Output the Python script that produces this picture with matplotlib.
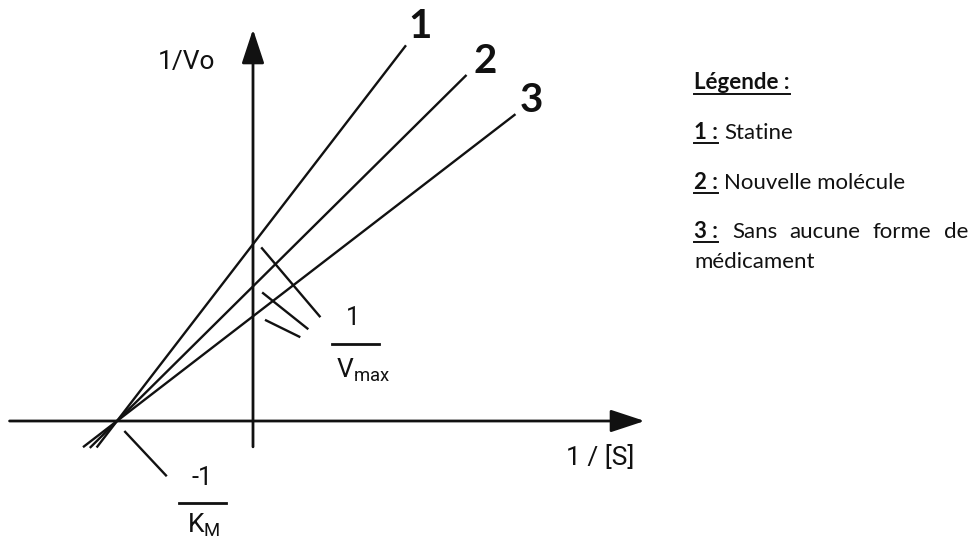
import matplotlib
matplotlib.use("Agg")
import matplotlib.pyplot as plt
from matplotlib.lines import Line2D

# Lineweaver-Burk lines: 1/v = (Km/Vmax) * 1/[S] + 1/Vmax
curve_names = ["1", "2", "3"]
inv_vmax = [1.30, 0.99, 0.77]   # y-intercepts (1/Vmax)
inv_km = 1.0                     # x-intercept is -1/Km, shared by all lines
x_start = [-1.15, -1.20, -1.25]
x_end = [1.125, 1.57, 1.93]

legend_title = "Légende :"
legend_items = [("1 :", "Statine"),
                ("2 :", "Nouvelle molécule"),
                ("3 :", "Sans aucune forme de", "médicament")]

W, H = 975, 539
fig = plt.figure(figsize=(W / 100, H / 100), dpi=100)
ax = fig.add_axes([0, 0, 1, 1])
ax.axis("off")

S = 136.0                      # pixels per unit
ox, oy = 253, 421              # origin in pixels
ax.set_xlim(-ox / S, (W - ox) / S)
ax.set_ylim(-(H - oy) / S, oy / S)

ink = "#111111"
diag_font = "Roboto"

# axes with arrow heads
arrow = dict(arrowstyle="-|>,head_length=1.0,head_width=0.33", mutation_scale=21,
             lw=2.0, color=ink, shrinkA=0, shrinkB=0)
ax.annotate("", xy=(2.88, 0), xytext=(-1.79, 0), arrowprops=arrow)
ax.annotate("", xy=(0, 2.88), xytext=(0, -0.19), arrowprops=arrow)

ax.text(-0.49, 2.64, "1/Vo", fontsize=19, family=diag_font, color=ink,
        ha="center", va="center")
ax.text(2.55, -0.265, "1 / [S]", fontsize=19, family=diag_font, color=ink,
        ha="center", va="center")

# the three lines
label_off = [(0.10, 0.14), (0.14, 0.10), (0.12, 0.10)]
for name, b, xa, xb, off in zip(curve_names, inv_vmax, x_start, x_end, label_off):
    xs = [xa, xb]
    ys = [b * (1 + x / inv_km) for x in xs]
    ax.plot(xs, ys, color=ink, lw=1.7, solid_capstyle="butt")
    ax.text(xb + off[0], ys[1] + off[1], name, fontsize=29, weight="bold",
            family="Lato", color=ink, ha="center", va="center")

# leader lines to the 1/Vmax label
leader_ends = [(0.49, 0.77), (0.40, 0.68), (0.34, 0.62)]
leader_dx = [0.066, 0.074, 0.096]
leader_dy = [-0.03, -0.05, -0.03]
for b, (ex, ey), dx, dy in zip(inv_vmax, leader_ends, leader_dx, leader_dy):
    ax.plot([dx, ex], [b + dy, ey], color=ink, lw=1.7)

ax.text(0.735, 0.757, "1", fontsize=18, family=diag_font, color=ink,
        ha="center", va="center")
ax.plot([0.58, 0.93], [0.566, 0.566], color=ink, lw=2.0)
ax.text(0.81, 0.375, r"V$_{\mathregular{max}}$", fontsize=19, family=diag_font,
        color=ink, ha="center", va="center")

# leader line and label for -1/Km
kx = -1 / inv_km
ax.plot([kx + 0.06, kx + 0.36], [-0.08, -0.40], color=ink, lw=1.7)
ax.text(-0.375, -0.42, "-1", fontsize=18, family=diag_font, color=ink,
        ha="center", va="center")
ax.plot([-0.544, -0.199], [-0.603, -0.603], color=ink, lw=2.0)
ax.text(-0.36, -0.77, r"K$_{\mathregular{M}}$", fontsize=19, family=diag_font,
        color=ink, ha="center", va="center")

# legend block on the right, in pixels
renderer = fig.canvas.get_renderer()
lx = 694
leg_size = 16


def fy(py):
    return 1 - py / H


def underline(t, py):
    bb = t.get_window_extent(renderer)
    fig.add_artist(Line2D([bb.x0 / W, bb.x1 / W], [fy(py), fy(py)],
                          transform=fig.transFigure, color=ink, lw=1.4))
    return bb


t = fig.text(lx / W, fy(89), legend_title, fontsize=leg_size, weight="bold",
             family="Lato", color=ink, va="baseline")
underline(t, 94)

rows_y = [139, 189, 238]
for (num, text, *more), py in zip(legend_items, rows_y):
    t = fig.text(lx / W, fy(py), num, fontsize=leg_size, weight="bold",
                 family="Lato", color=ink, va="baseline")
    bb = underline(t, py + 4)
    if not more:
        fig.text((bb.x1 + 6) / W, fy(py), text, fontsize=leg_size, family="Lato",
                 color=ink, va="baseline")
        continue
    # justified line: spread the words up to the right margin
    words = text.split()
    arts = [fig.text(0, fy(py), w, fontsize=leg_size, family="Lato", color=ink,
                     va="baseline") for w in words]
    widths = [a.get_window_extent(renderer).width for a in arts]
    x0, x1 = bb.x1 + 14, 968
    gap = (x1 - x0 - sum(widths)) / (len(words) - 1)
    x = x0
    for a, w in zip(arts, widths):
        a.set_x(x / W)
        x += w + gap
    fig.text(lx / W, fy(py + 30), more[0], fontsize=leg_size, family="Lato",
             color=ink, va="baseline")

fig.savefig("out.png", dpi=100)
